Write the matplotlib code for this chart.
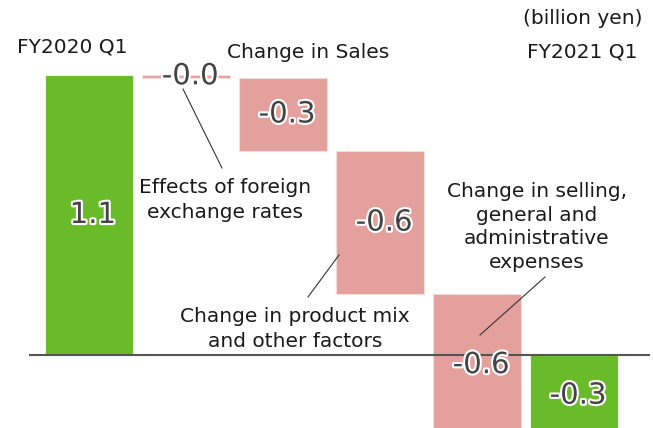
import matplotlib
matplotlib.use("Agg")
import matplotlib.pyplot as plt
import matplotlib.patheffects as pe

# ---- data ----
categories = ["FY2020 Q1", "Effects of foreign\nexchange rates", "Change in Sales",
              "Change in product mix\nand other factors",
              "Change in selling,\ngeneral and\nadministrative\nexpenses", "FY2021 Q1"]
start_value = 1.10
deltas = [-0.01, -0.29, -0.56, -0.56]
end_value = -0.32
value_labels = ["1.1", "-0.0", "-0.3", "-0.6", "-0.6", "-0.3"]

GREEN = "#6abb29"
PINK = "#e4a09c"
TXT = "#1a1a1a"

W, H = 653, 428
fig = plt.figure(figsize=(W / 100, H / 100), dpi=100)
ax = fig.add_axes([0, 0, 1, 1])
ax.set_xlim(-0.918, 5.814)
ax.set_ylim(-0.287, 1.395)
ax.axis("off")

# bars
bw = 0.9
ax.bar(0, start_value, width=bw, color=GREEN, edgecolor="#e8f5dd", linewidth=0.8, zorder=2)
level = start_value
mids = [start_value / 2]
for i, d in enumerate(deltas, start=1):
    ax.bar(i, d, bottom=level, width=bw, color=PINK, edgecolor="#f6dcda", linewidth=0.8, zorder=2)
    mids.append(level + d / 2)
    level += d
ax.bar(5, end_value, width=bw, color=GREEN, edgecolor="#e8f5dd", linewidth=0.8, zorder=2)
mids.append(end_value / 2)

# zero line
ax.hlines(0, -0.62, 5.785, color="#555555", linewidth=1.5, zorder=3)

# value labels
stroke = [pe.withStroke(linewidth=3, foreground="white")]
for i, (m, lab) in enumerate(zip(mids, value_labels)):
    t = ax.text(i + 0.04, m, lab, ha="center", va="center", fontsize=21,
                color="#444444", path_effects=stroke, zorder=5)
    t.set_fontstretch("expanded")


def fx(px):
    return px / W


def fy(py):
    return 1 - py / H


# category texts
fs = 14.5
fig.text(fx(72), fy(47), categories[0], ha="center", va="center", fontsize=fs, color=TXT)
fig.text(fx(308), fy(52), categories[2], ha="center", va="center", fontsize=fs, color=TXT)
fig.text(fx(582), fy(52), categories[5], ha="center", va="center", fontsize=fs, color=TXT)
fig.text(fx(583), fy(19), "(billion yen)", ha="center", va="center", fontsize=fs, color=TXT)
fig.text(fx(225), fy(200), categories[1], ha="center", va="center", fontsize=fs,
         color=TXT, linespacing=1.35)
fig.text(fx(295), fy(329), categories[3], ha="center", va="center", fontsize=fs,
         color=TXT, linespacing=1.35)
fig.text(fx(537), fy(227), categories[4], ha="center", va="center", fontsize=fs,
         color=TXT, linespacing=1.3)

# leader lines
def leader(x0, y0, x1, y1):
    fig.add_artist(plt.Line2D([fx(x0), fx(x1)], [fy(y0), fy(y1)], color="#333333",
                              linewidth=0.8, zorder=6))


leader(183, 89, 222, 168)
leader(339, 255, 308, 297)
leader(545, 277, 480, 335)

fig.savefig("out.png", dpi=100)
